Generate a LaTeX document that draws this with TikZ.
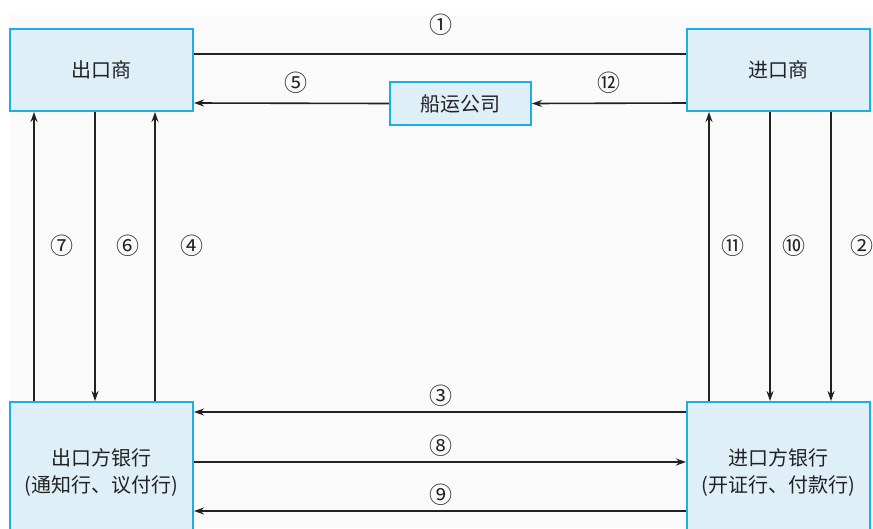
\documentclass[tikz,border=0pt]{standalone}
\usepackage{fontspec}
\setmainfont{Noto Sans CJK SC}
\usetikzlibrary{arrows.meta,calc}
\definecolor{boxfill}{HTML}{DFEFF8}
\definecolor{boxline}{HTML}{1BB0E4}
\definecolor{bgc}{HTML}{FAFAFA}
\definecolor{linec}{HTML}{222222}
\tikzset{
  box/.style={draw=boxline,fill=boxfill,line width=2pt,align=center,inner sep=0pt,
    font=\fontsize{20}{27}\selectfont,text=linec},
  conn/.style={draw=linec,line width=1.6pt},
  arr/.style={conn,-{Stealth[length=10pt,width=7pt]}},
  num/.style={font=\fontsize{23}{23}\selectfont,text=linec,inner sep=0pt}
}
\begin{document}
\begin{tikzpicture}[x=1pt,y=-1pt]
\useasboundingbox (0,0) rectangle (873,528);
\clip (0,0) rectangle (873,528);
\fill[bgc] (10,15) rectangle (873,528);
\node[box,minimum width=183,minimum height=82] (ex) at (101.5,70) {出口商};
\node[box,minimum width=183,minimum height=82] (im) at (778.5,70) {进口商};
\node[box,minimum width=141,minimum height=43] (sh) at (460.5,103.5) {船运公司};
\node[box,minimum width=183,minimum height=140] (eb) at (101.5,472) {出口方银行\\(通知行、议付行)};
\node[box,minimum width=183,minimum height=140] (ib) at (778.5,472) {进口方银行\\(开证行、付款行)};
% coordinates for connector positions
\coordinate (y1) at (0,54);
\coordinate (y5) at (0,103);
\coordinate (x7) at (34,0);
\coordinate (x6) at (95,0);
\coordinate (x4) at (155,0);
\coordinate (x11) at (709,0);
\coordinate (x10) at (770,0);
\coordinate (x2) at (831,0);
\coordinate (y3) at (0,412);
\coordinate (y8) at (0,462);
\coordinate (y9) at (0,511);
% top connectors
\draw[conn] (ex.east |- y1) -- (im.west |- y1);
\draw[arr] (sh.west) -- (ex.east |- y5);
\draw[arr] (im.west |- y5) -- (sh.east);
% left verticals
\draw[arr] (eb.north -| x7) -- (ex.south -| x7);
\draw[arr] (ex.south -| x6) -- (eb.north -| x6);
\draw[arr] (eb.north -| x4) -- (ex.south -| x4);
% right verticals
\draw[arr] (ib.north -| x11) -- (im.south -| x11);
\draw[arr] (im.south -| x10) -- (ib.north -| x10);
\draw[arr] (im.south -| x2) -- (ib.north -| x2);
% bottom horizontals
\draw[arr] (ib.west |- y3) -- (eb.east |- y3);
\draw[arr] (eb.east |- y8) -- (ib.west |- y8);
\draw[arr] (ib.west |- y9) -- (eb.east |- y9);
% labels
\node[num] (n1) at (441,25) {①};
\node[num] (n5) at (296,83) {⑤};
\node[num] (n12) at (609,83) {⑫};
\node[num] (n7) at (62,246) {⑦};
\node[num] (n6) at (128,246) {⑥};
\node[num] (n4) at (192,246) {④};
\node[num] (n11) at (733,246) {⑪};
\node[num] (n10) at (794,246) {⑩};
\node[num] (n2) at (862,246) {②};
\node[num] (n3) at (441,396) {③};
\node[num] (n8) at (441,446) {⑧};
\node[num] (n9) at (441,495) {⑨};
\end{tikzpicture}
\end{document}
